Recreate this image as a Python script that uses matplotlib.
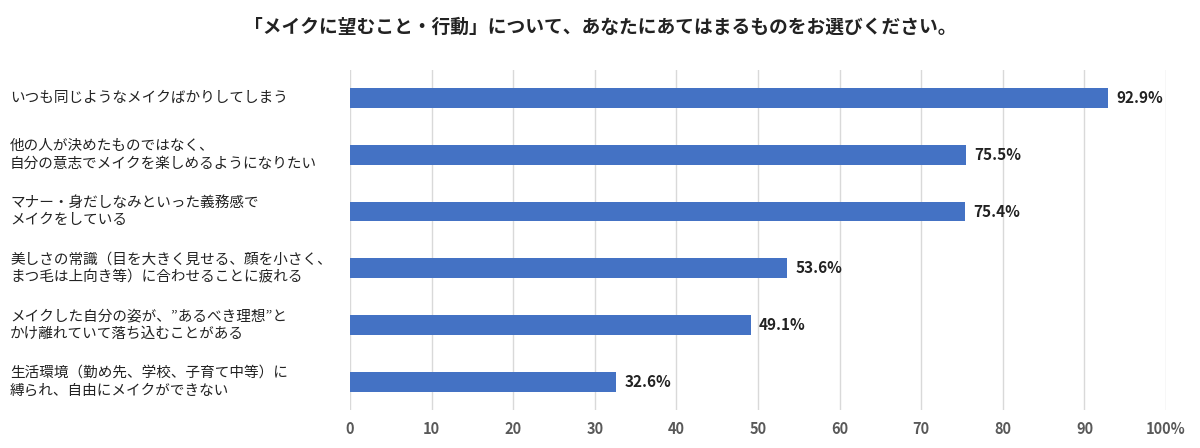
import matplotlib
matplotlib.use("Agg")
import matplotlib.pyplot as plt

plt.rcParams["font.family"] = "Noto Sans CJK JP"

title = "「メイクに望むこと・行動」について、あなたにあてはまるものをお選びください。"
categories = [
    "いつも同じようなメイクばかりしてしまう",
    "他の人が決めたものではなく、\n自分の意志でメイクを楽しめるようになりたい",
    "マナー・身だしなみといった義務感で\nメイクをしている",
    "美しさの常識（目を大きく見せる、顔を小さく、\nまつ毛は上向き等）に合わせることに疲れる",
    "メイクした自分の姿が、”あるべき理想”と\nかけ離れていて落ち込むことがある",
    "生活環境（勤め先、学校、子育て中等）に\n縛られ、自由にメイクができない",
]
values = [92.9, 75.5, 75.4, 53.6, 49.1, 32.6]
xticks = [0, 10, 20, 30, 40, 50, 60, 70, 80, 90, 100]
xticklabels = ["0", "10", "20", "30", "40", "50", "60", "70", "80", "90", "100%"]

fig = plt.figure(figsize=(12, 4.48), dpi=100)
ax = fig.add_axes([0.2917, 0.085, 0.68, 0.759])
y = list(range(len(categories)))
ax.barh(y, values, height=0.35, color="#4472C4", zorder=3)
ax.set_ylim(len(categories) - 0.5, -0.5)
ax.set_xlim(0, 100)
ax.set_xticks(xticks)
ax.set_xticklabels(xticklabels, fontsize=10.5, fontweight="bold", color="#595959")
ax.set_yticks([])
ax.grid(axis="x", color="#d9d9d9", linewidth=1, zorder=0)
for s in ax.spines.values():
    s.set_visible(False)
ax.tick_params(axis="x", length=0, pad=8)
for yi, v in zip(y, values):
    ax.text(v + 1, yi, f"{v}%", va="center", ha="left", fontsize=11, fontweight="bold", color="#222222")
for yi, c in zip(y, categories):
    ax.text(-0.0,  yi, c, transform=ax.get_yaxis_transform(), ha="left", va="center",
            fontsize=10.5, color="#222222", linespacing=1.3)
    ax.texts[-1].set_x(-340 / 816)
    ax.texts[-1].set_transform(ax.get_yaxis_transform())
fig.text(0.5, 0.94, title, ha="center", va="center", fontsize=13.5, fontweight="bold", color="#222222")
fig.savefig("out.png", dpi=100)
